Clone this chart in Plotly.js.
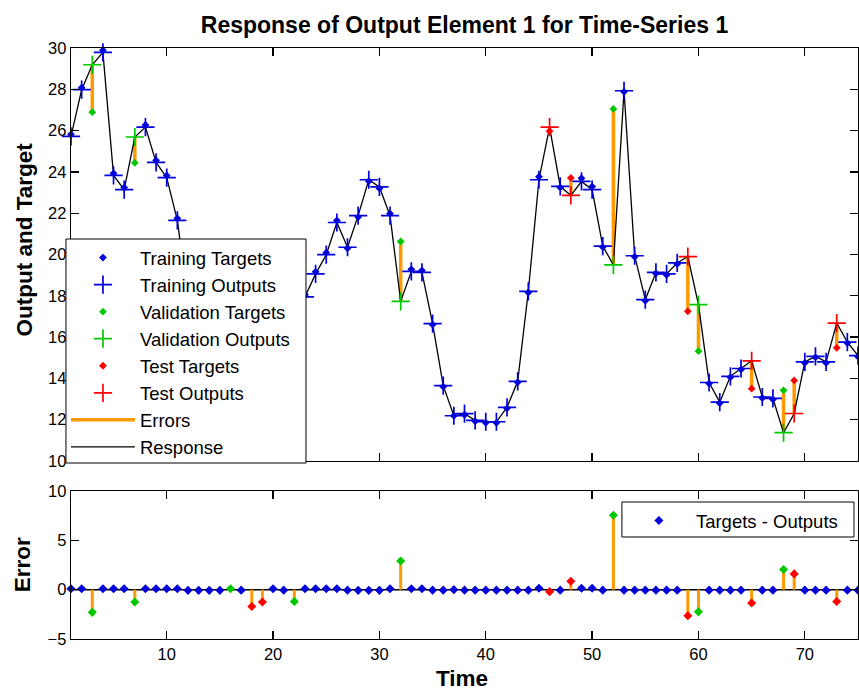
<!DOCTYPE html>
<html>
<head>
<meta charset="utf-8">
<script src="https://cdn.plot.ly/plotly-3.0.1.min.js"></script>
<style>html,body{margin:0;padding:0;background:#fff;}</style>
</head>
<body>
<div id="chart" style="width:859px;height:690px;"></div>
<script>
// ---- Data ----
const time = [1,2,3,4,5,6,7,8,9,10,11,12,13,14,15,16,17,18,19,20,21,22,23,24,25,
  26,27,28,29,30,31,32,33,34,35,36,37,38,39,40,41,42,43,44,45,46,47,48,49,50,
  51,52,53,54,55,56,57,58,59,60,61,62,63,64,65,66,67,68,69,70,71,72,73,74,75];

const outputs = [25.72,27.98,29.19,29.79,23.83,23.14,25.69,26.17,24.46,23.72,
  21.65,17.8,15.6,14.8,15.3,16.2,16.6,17.4,18.2,18.6,
  18.3,18.6,17.95,19.06,19.99,21.55,20.35,21.88,23.62,23.27,
  21.88,17.73,19.18,19.13,16.65,13.65,12.19,12.29,11.97,11.9,
  11.9,12.6,13.86,18.21,23.62,26.17,23.3,22.86,23.54,23.14,
  20.41,19.5,27.93,19.94,17.81,19.13,19.06,19.59,19.9,17.57,
  13.8,12.85,14.1,14.48,14.85,13.1,13.03,11.37,12.3,14.8,
  15.07,14.8,16.68,15.76,15.1];

const errors = [0.1,0.1,-2.3,0.1,0.1,0.1,-1.25,0.1,0.1,0.1,
  0.1,-0.07,-0.07,-0.07,-0.07,0.1,-0.05,-1.7,-1.25,0.1,
  -0.05,-1.2,0.1,0.1,0.1,0.1,-0.05,-0.07,-0.07,-0.07,
  0.1,2.9,0.1,0.1,-0.05,-0.05,0.0,-0.05,-0.05,-0.05,
  -0.05,-0.05,-0.05,-0.05,0.15,-0.2,-0.05,0.85,0.15,0.15,
  -0.05,7.55,-0.05,-0.05,-0.05,-0.05,-0.05,-0.05,-2.65,-2.25,
  -0.05,-0.05,-0.05,-0.05,-1.35,-0.05,-0.05,2.05,1.6,-0.05,
  -0.05,-0.05,-1.2,-0.05,-0.05];

const validationTimes = [3,7,16,22,32,52,60,68];
const testTimes = [18,19,46,48,59,65,69,73];
const xTickVals = [10,20,30,40,50,60,70];

const titleText = 'Response of Output Element 1 for Time-Series 1';

// ---- Derived (targets = outputs + errors) ----
const targets = outputs.map((o, i) => o + errors[i]);
const setOf = t => validationTimes.includes(t) ? 'val' : (testTimes.includes(t) ? 'test' : 'train');
function pick(arr, s) { return time.map((t, i) => [t, arr[i]]).filter(p => setOf(p[0]) === s); }
function xs(pairs) { return pairs.map(p => p[0]); }
function ys(pairs) { return pairs.map(p => p[1]); }

const BLUE = '#0000dd', GREEN = '#00c800', RED = '#ff0000', ORANGE = '#ff9900';
const FONT = 'Liberation Sans, Arial, sans-serif';

// error segments
const segX = [], segY = [], stemX = [], stemY = [];
time.forEach((t, i) => {
  segX.push(t, t, null); segY.push(outputs[i], targets[i], null);
  stemX.push(t, t, null); stemY.push(0, errors[i], null);
});

const dot = (c, s) => ({symbol: 'diamond', size: s, color: c, line: {width: 0}});
const plus = c => ({symbol: 'cross-thin-open', size: 13, color: c, line: {color: c, width: 1.7}});

const traces = [
  {x: segX, y: segY, mode: 'lines', line: {color: ORANGE, width: 3.5}, name: 'Errors',
   legendgroup: 'g7', legendrank: 7, xaxis: 'x', yaxis: 'y', hoverinfo: 'skip'},
  {x: time, y: outputs, mode: 'lines', line: {color: '#000', width: 1.3}, name: 'Response',
   legendgroup: 'g8', legendrank: 8, xaxis: 'x', yaxis: 'y'},
  {x: xs(pick(targets, 'train')), y: ys(pick(targets, 'train')), mode: 'markers', marker: dot(BLUE, 6),
   name: 'Training Targets', legendgroup: 'g1', legendrank: 1, cliponaxis: false, xaxis: 'x', yaxis: 'y'},
  {x: xs(pick(outputs, 'train')), y: ys(pick(outputs, 'train')), mode: 'markers', marker: plus(BLUE),
   name: 'Training Outputs', legendgroup: 'g2', legendrank: 2, cliponaxis: false, xaxis: 'x', yaxis: 'y'},
  {x: xs(pick(targets, 'val')), y: ys(pick(targets, 'val')), mode: 'markers', marker: dot(GREEN, 6),
   name: 'Validation Targets', legendgroup: 'g3', legendrank: 3, cliponaxis: false, xaxis: 'x', yaxis: 'y'},
  {x: xs(pick(outputs, 'val')), y: ys(pick(outputs, 'val')), mode: 'markers', marker: plus(GREEN),
   name: 'Validation Outputs', legendgroup: 'g4', legendrank: 4, cliponaxis: false, xaxis: 'x', yaxis: 'y'},
  {x: xs(pick(targets, 'test')), y: ys(pick(targets, 'test')), mode: 'markers', marker: dot(RED, 6),
   name: 'Test Targets', legendgroup: 'g5', legendrank: 5, cliponaxis: false, xaxis: 'x', yaxis: 'y'},
  {x: xs(pick(outputs, 'test')), y: ys(pick(outputs, 'test')), mode: 'markers', marker: plus(RED),
   name: 'Test Outputs', legendgroup: 'g6', legendrank: 6, cliponaxis: false, xaxis: 'x', yaxis: 'y'},

  // bottom error panel
  {x: [time[0], time[time.length - 1]], y: [0, 0], mode: 'lines', line: {color: '#000', width: 1.5},
   showlegend: false, xaxis: 'x2', yaxis: 'y2', hoverinfo: 'skip'},
  {x: stemX, y: stemY, mode: 'lines', line: {color: ORANGE, width: 3}, showlegend: false,
   xaxis: 'x2', yaxis: 'y2', hoverinfo: 'skip'},
  {x: xs(pick(errors, 'train')), y: ys(pick(errors, 'train')), mode: 'markers', marker: dot(BLUE, 7),
   name: 'Targets - Outputs', legend: 'legend2', cliponaxis: false, xaxis: 'x2', yaxis: 'y2'},
  {x: xs(pick(errors, 'val')), y: ys(pick(errors, 'val')), mode: 'markers', marker: dot(GREEN, 7),
   showlegend: false, cliponaxis: false, xaxis: 'x2', yaxis: 'y2'},
  {x: xs(pick(errors, 'test')), y: ys(pick(errors, 'test')), mode: 'markers', marker: dot(RED, 7),
   showlegend: false, cliponaxis: false, xaxis: 'x2', yaxis: 'y2'}
];

const axisBase = {
  showline: true, linecolor: '#000', linewidth: 1.3, mirror: 'ticks', ticks: 'inside',
  ticklen: 8, tickwidth: 1.3, tickcolor: '#000', showgrid: false, zeroline: false,
  tickfont: {family: FONT, size: 16.5, color: '#000'}
};

const legendFont = {family: FONT, size: 18.5, color: '#000'};

const layout = {
  width: 859, height: 690,
  margin: {l: 71, r: 1, t: 48, b: 51},
  paper_bgcolor: '#fff', plot_bgcolor: '#fff',
  font: {family: FONT, color: '#000'},
  title: {text: titleText, font: {family: FONT, size: 23, weight: 'bold', color: '#000'},
          x: 0.5, xref: 'paper', y: 0.964, yanchor: 'middle'},
  xaxis: Object.assign({}, axisBase, {domain: [0, 1], range: [1, 75], anchor: 'y',
    tickmode: 'array', tickvals: xTickVals, showticklabels: false}),
  yaxis: Object.assign({}, axisBase, {domain: [0.3012, 1], range: [10, 30], anchor: 'x', dtick: 2, tick0: 10}),
  xaxis2: Object.assign({}, axisBase, {domain: [0, 1], range: [1, 75], anchor: 'y2',
    tickmode: 'array', tickvals: xTickVals}),
  yaxis2: Object.assign({}, axisBase, {domain: [0, 0.2504], range: [-5, 10], anchor: 'x2', dtick: 5, tick0: -5}),
  legend: {x: -0.0064, y: 0.6768, xanchor: 'left', yanchor: 'top', bgcolor: 'rgba(0,0,0,0)',
    borderwidth: 0, font: legendFont,
    traceorder: 'grouped', tracegroupgap: 0, itemwidth: 64},
  legend2: {x: 0.700, y: 0.2318, xanchor: 'left', yanchor: 'top', bgcolor: 'rgba(0,0,0,0)',
    borderwidth: 0, font: legendFont, itemwidth: 64},
  // legend frames (white boxes with black borders behind the legend entries)
  shapes: [
    {type: 'rect', xref: 'paper', yref: 'paper', x0: -0.0064, x1: 0.2986, y0: 0.2978, y1: 0.6768,
     fillcolor: '#fff', line: {color: '#000', width: 1}, layer: 'above'},
    {type: 'rect', xref: 'paper', yref: 'paper', x0: 0.700, x1: 0.9949, y0: 0.1726, y1: 0.2318,
     fillcolor: '#fff', line: {color: '#000', width: 1}, layer: 'above'}
  ],
  annotations: [
    {text: '<b>Output and Target</b>', xref: 'paper', yref: 'paper', x: -0.0597, y: 0.676,
     xanchor: 'center', yanchor: 'middle',
     textangle: -90, showarrow: false, font: {family: FONT, size: 22.5, color: '#000'}},
    {text: '<b>Error</b>', xref: 'paper', yref: 'paper', x: -0.062, y: 0.1252,
     xanchor: 'center', yanchor: 'middle',
     textangle: -90, showarrow: false, font: {family: FONT, size: 22.5, color: '#000'}},
    {text: '<b>Time</b>', xref: 'paper', yref: 'paper', x: 0.4968, y: -0.066,
     xanchor: 'center', yanchor: 'middle',
     showarrow: false, font: {family: FONT, size: 22.5, color: '#000'}}
  ],
  showlegend: true
};

Plotly.newPlot('chart', traces, layout, {staticPlot: true, displayModeBar: false});
</script>
</body>
</html>
